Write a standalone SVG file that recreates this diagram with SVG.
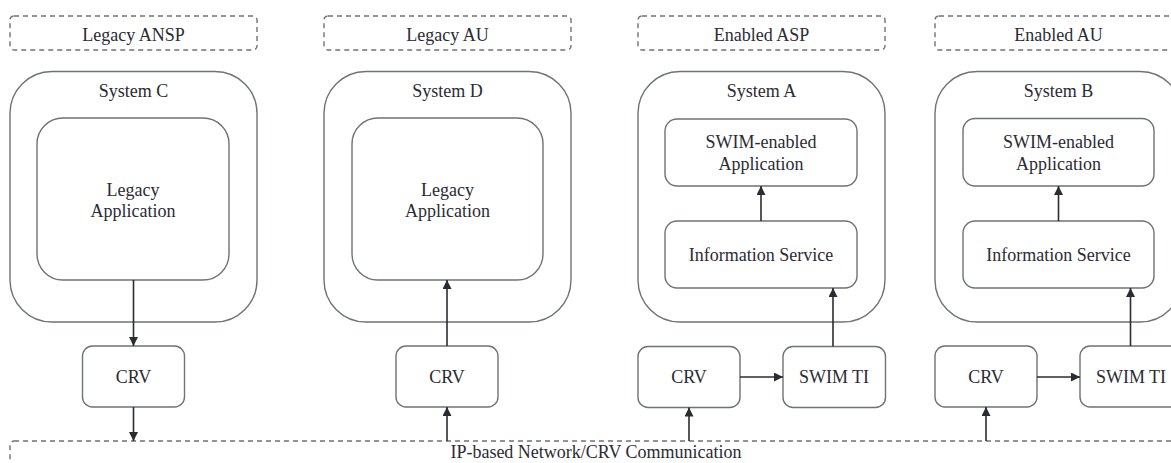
<svg xmlns="http://www.w3.org/2000/svg" width="1171" height="463" viewBox="0 0 1171 463">
  <style>
    .box { fill: #ffffff; stroke: #6e7373; stroke-width: 1.4; }
    .dash { fill: none; stroke: #6e7373; stroke-width: 1.4; stroke-dasharray: 5 4; }
    .lbl { font-family: "Liberation Serif", "Times New Roman", serif; font-size: 18px; fill: #2b2b33; text-anchor: middle; }
    .wire { fill: none; stroke: #2b2b33; stroke-width: 1.6; }
  </style>
  <defs>
    <marker id="arrow" viewBox="0 0 10 10" refX="10" refY="5" markerWidth="9" markerHeight="9" markerUnits="userSpaceOnUse" orient="auto">
      <path d="M0,0 L10,5 L0,10 z" fill="#2b2b33"/>
    </marker>
  </defs>
  <rect width="1171" height="463" fill="#ffffff"/>

  <!-- organisation headers -->
  <g id="hdr-legacy-ansp">
    <rect class="dash" x="10" y="16" width="247" height="34" rx="4"/>
    <text class="lbl" x="133.5" y="41">Legacy ANSP</text>
  </g>
  <g id="hdr-legacy-au">
    <rect class="dash" x="324" y="16" width="247" height="34" rx="4"/>
    <text class="lbl" x="447.5" y="41">Legacy AU</text>
  </g>
  <g id="hdr-enabled-asp">
    <rect class="dash" x="638" y="16" width="247" height="34" rx="4"/>
    <text class="lbl" x="761.5" y="41">Enabled ASP</text>
  </g>
  <g id="hdr-enabled-au">
    <rect class="dash" x="935" y="16" width="247" height="34" rx="4"/>
    <text class="lbl" x="1058.5" y="41">Enabled AU</text>
  </g>

  <!-- System C -->
  <g id="system-c">
    <rect class="box" x="10" y="71.5" width="247" height="250.5" rx="42"/>
    <text class="lbl" x="133.5" y="96.5">System C</text>
  </g>
  <g id="legacy-app-c">
    <rect class="box" x="37" y="118" width="192" height="162" rx="26"/>
    <text class="lbl" x="133" y="195.5">Legacy</text>
    <text class="lbl" x="133" y="216.5">Application</text>
  </g>
  <g id="crv-c">
    <rect class="box" x="82.5" y="346" width="102" height="61" rx="10"/>
    <text class="lbl" x="133.5" y="383.3">CRV</text>
  </g>

  <!-- System D -->
  <g id="system-d">
    <rect class="box" x="324" y="71.5" width="247" height="250.5" rx="42"/>
    <text class="lbl" x="447.5" y="96.5">System D</text>
  </g>
  <g id="legacy-app-d">
    <rect class="box" x="352" y="118" width="191" height="162" rx="26"/>
    <text class="lbl" x="447.5" y="195.5">Legacy</text>
    <text class="lbl" x="447.5" y="216.5">Application</text>
  </g>
  <g id="crv-d">
    <rect class="box" x="396" y="346" width="102" height="61" rx="10"/>
    <text class="lbl" x="447" y="383.3">CRV</text>
  </g>

  <!-- System A -->
  <g id="system-a">
    <rect class="box" x="638" y="71.5" width="247" height="250.5" rx="42"/>
    <text class="lbl" x="761.5" y="96.5">System A</text>
  </g>
  <g id="swim-app-a">
    <rect class="box" x="665" y="119" width="192" height="67" rx="12"/>
    <text class="lbl" x="761" y="148.3">SWIM-enabled</text>
    <text class="lbl" x="761" y="170">Application</text>
  </g>
  <g id="info-service-a">
    <rect class="box" x="665" y="221" width="192" height="67" rx="12"/>
    <text class="lbl" x="761" y="261.3">Information Service</text>
  </g>
  <g id="crv-a">
    <rect class="box" x="638" y="346.5" width="102" height="61" rx="10"/>
    <text class="lbl" x="689" y="383.3">CRV</text>
  </g>
  <g id="swim-ti-a">
    <rect class="box" x="783" y="346.5" width="102.5" height="61" rx="10"/>
    <text class="lbl" x="834" y="383.3">SWIM TI</text>
  </g>

  <!-- System B -->
  <g id="system-b">
    <rect class="box" x="935" y="71.5" width="247" height="250.5" rx="42"/>
    <text class="lbl" x="1058.5" y="96.5">System B</text>
  </g>
  <g id="swim-app-b">
    <rect class="box" x="963" y="118.5" width="191" height="67.5" rx="12"/>
    <text class="lbl" x="1058.5" y="148.3">SWIM-enabled</text>
    <text class="lbl" x="1058.5" y="170">Application</text>
  </g>
  <g id="info-service-b">
    <rect class="box" x="963" y="221" width="191" height="67" rx="12"/>
    <text class="lbl" x="1058.5" y="261.3">Information Service</text>
  </g>
  <g id="crv-b">
    <rect class="box" x="935" y="346" width="102" height="61" rx="10"/>
    <text class="lbl" x="986" y="383.3">CRV</text>
  </g>
  <g id="swim-ti-b">
    <rect class="box" x="1080" y="346" width="102" height="61" rx="10"/>
    <text class="lbl" x="1131" y="383.3">SWIM TI</text>
  </g>

  <!-- shared network -->
  <g id="network">
    <rect class="dash" x="10" y="441" width="1180" height="40" rx="4"/>
    <text class="lbl" x="596" y="458">IP-based Network/CRV Communication</text>
  </g>

  <!-- connectors -->
  <g id="connectors">
    <line class="wire" x1="133.5" y1="280" x2="133.5" y2="346" marker-end="url(#arrow)"/>
    <line class="wire" x1="133.5" y1="407" x2="133.5" y2="441" marker-end="url(#arrow)"/>

    <line class="wire" x1="447" y1="441" x2="447" y2="407" marker-end="url(#arrow)"/>
    <line class="wire" x1="447" y1="346" x2="447" y2="280" marker-end="url(#arrow)"/>

    <line class="wire" x1="689" y1="441" x2="689" y2="407.5" marker-end="url(#arrow)"/>
    <line class="wire" x1="740" y1="377" x2="783" y2="377" marker-end="url(#arrow)"/>
    <line class="wire" x1="833" y1="346.5" x2="833" y2="288" marker-end="url(#arrow)"/>
    <line class="wire" x1="761" y1="221" x2="761" y2="186" marker-end="url(#arrow)"/>

    <line class="wire" x1="986" y1="441" x2="986" y2="407" marker-end="url(#arrow)"/>
    <line class="wire" x1="1037" y1="377" x2="1080" y2="377" marker-end="url(#arrow)"/>
    <line class="wire" x1="1130.5" y1="346" x2="1130.5" y2="288" marker-end="url(#arrow)"/>
    <line class="wire" x1="1058.5" y1="221" x2="1058.5" y2="186" marker-end="url(#arrow)"/>
  </g>
</svg>
